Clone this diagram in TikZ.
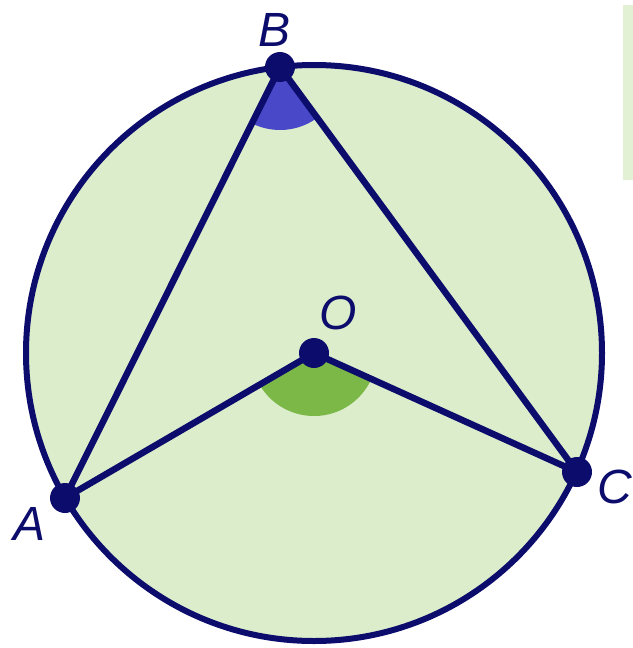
\documentclass[tikz,border=0pt]{standalone}
\usepackage{fontspec}
\setmainfont{Liberation Sans}
\usetikzlibrary{angles}
\definecolor{navy}{RGB}{12,12,108}
\definecolor{paleg}{RGB}{220,237,203}
\definecolor{sectblue}{RGB}{72,72,200}
\definecolor{sectgreen}{RGB}{124,184,72}
\definecolor{panelg}{RGB}{226,241,212}
\tikzset{
  seg/.style={draw=navy, line width=6.5pt, line cap=round},
  dot/.style={circle, fill=navy, inner sep=0pt, minimum size=30pt},
  lab/.style={text=navy, font=\fontsize{48}{48}\selectfont\itshape, inner sep=0pt}
}
\begin{document}
\begin{tikzpicture}[x=1pt,y=-1pt]
\useasboundingbox (0,0) rectangle (632,648);
% side panel
\fill[panelg] (623,5) rectangle (640,180);
% circle
\coordinate (O) at (314,353);
\fill[paleg] (O) circle[radius=288];
\coordinate (A) at (65,498);
\coordinate (B) at (280,67);
\coordinate (C) at (577,472);
% angle sectors
\pic[fill=sectgreen, draw=none, angle radius=63pt] {angle = A--O--C};
\pic[fill=sectblue, draw=none, angle radius=63pt] {angle = A--B--C};
% segments
\draw[seg] (A) -- (B) -- (C);
\draw[seg] (A) -- (O) -- (C);
\draw[draw=navy, line width=6pt] (O) circle[radius=288];
% dots
\node[dot] (a) at (A) {};
\node[dot] (b) at (B) {};
\node[dot] (c) at (C) {};
\node[dot] (o) at (O) {};
% labels
\node[lab] (lb) at (275,30) {B};
\node[lab] (lo) at (338,313) {O};
\node[lab] (la) at (30,524) {A};
\node[lab] (lc) at (615,487) {C};
\end{tikzpicture}
\end{document}
